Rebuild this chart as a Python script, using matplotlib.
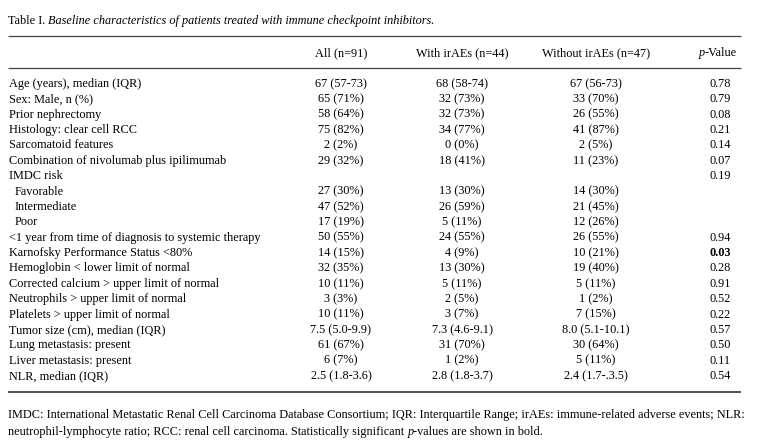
import matplotlib
matplotlib.use("Agg")
import matplotlib.pyplot as plt

plt.rcParams["font.family"] = ["Liberation Serif", "DejaVu Serif"]

title_lead = "Table I."
title_rest = "Baseline characteristics of patients treated with immune checkpoint inhibitors."

col_headers = ["All (n=91)", "With irAEs (n=44)", "Without irAEs (n=47)"]

row_labels = [
    "Age (years), median (IQR)",
    "Sex: Male, n (%)",
    "Prior nephrectomy",
    "Histology: clear cell RCC",
    "Sarcomatoid features",
    "Combination of nivolumab plus ipilimumab",
    "IMDC risk",
    "Favorable",
    "Intermediate",
    "Poor",
    "<1 year from time of diagnosis to systemic therapy",
    "Karnofsky Performance Status <80%",
    "Hemoglobin < lower limit of normal",
    "Corrected calcium > upper limit of normal",
    "Neutrophils > upper limit of normal",
    "Platelets > upper limit of normal",
    "Tumor size (cm), median (IQR)",
    "Lung metastasis: present",
    "Liver metastasis: present",
    "NLR, median (IQR)",
]
indented = [False] * 7 + [True] * 3 + [False] * 10

all_vals = ["67 (57-73)", "65 (71%)", "58 (64%)", "75 (82%)", "2 (2%)", "29 (32%)", "",
            "27 (30%)", "47 (52%)", "17 (19%)", "50 (55%)", "14 (15%)", "32 (35%)",
            "10 (11%)", "3 (3%)", "10 (11%)", "7.5 (5.0-9.9)", "61 (67%)", "6 (7%)",
            "2.5 (1.8-3.6)"]
with_vals = ["68 (58-74)", "32 (73%)", "32 (73%)", "34 (77%)", "0 (0%)", "18 (41%)", "",
             "13 (30%)", "26 (59%)", "5 (11%)", "24 (55%)", "4 (9%)", "13 (30%)",
             "5 (11%)", "2 (5%)", "3 (7%)", "7.3 (4.6-9.1)", "31 (70%)", "1 (2%)",
             "2.8 (1.8-3.7)"]
without_vals = ["67 (56-73)", "33 (70%)", "26 (55%)", "41 (87%)", "2 (5%)", "11 (23%)", "",
                "14 (30%)", "21 (45%)", "12 (26%)", "26 (55%)", "10 (21%)", "19 (40%)",
                "5 (11%)", "1 (2%)", "7 (15%)", "8.0 (5.1-10.1)", "30 (64%)", "5 (11%)",
                "2.4 (1.7-.3.5)"]
p_vals = ["0.78", "0.79", "0.08", "0.21", "0.14", "0.07", "0.19", "", "", "",
          "0.94", "0.03", "0.28", "0.91", "0.52", "0.22", "0.57", "0.50", "0.11", "0.54"]
significant = ["0.03"]

foot_line1 = ("IMDC: International Metastatic Renal Cell Carcinoma Database Consortium; "
              "IQR: Interquartile Range; irAEs: immune-related adverse events; NLR:")
foot_line2a = "neutrophil-lymphocyte ratio; RCC: renal cell carcinoma. Statistically significant "
foot_line2b = "p"
foot_line2c = "-values are shown in bold."

FS = 8.85
W, H = 758, 442

fig = plt.figure(figsize=(W / 100, H / 100), dpi=100)
ax = fig.add_axes([0, 0, 1, 1])
ax.set_xlim(0, W)
ax.set_ylim(H, 0)
ax.axis("off")
renderer = fig.canvas.get_renderer()


def text_width(txt, style="normal"):
    t = ax.text(0, 0, txt, fontsize=FS, style=style)
    w = t.get_window_extent(renderer).width
    t.remove()
    return w


def run_text(x, y, pieces):
    """Draw consecutive text pieces (text, style, weight) left to right."""
    for txt, style, weight in pieces:
        t = ax.text(x, y, txt, fontsize=FS, style=style, weight=weight,
                    ha="left", va="baseline")
        x += t.get_window_extent(renderer).width  # 1 data unit == 1 pixel
    return x


# title
run_text(8, 24, [(title_lead + " ", "normal", "normal"),
                 (title_rest, "italic", "normal")])

# rules
ax.hlines(36, 8, 741, color="#444444", lw=0.9)
ax.hlines(68, 8, 741, color="#444444", lw=0.9)
ax.hlines(392, 8, 741, color="#222222", lw=1.1)

col_x = [341, 462, 596]
p_x = 720
header_y = 56

for cx, h in zip(col_x, col_headers):
    ax.text(cx, header_y, h, fontsize=FS, ha="center", va="baseline")

# p-Value header, italic p
hw = text_width("p", "italic") + text_width("-Value")
run_text(p_x - 2 - hw / 2, header_y, [("p", "italic", "normal"),
                                     ("-Value", "normal", "normal")])

y0, dy = 87, 15.37
for i, lab in enumerate(row_labels):
    y = y0 + i * dy
    ax.text(15 if indented[i] else 9, y, lab, fontsize=FS, ha="left", va="baseline")
    for cx, vals in zip(col_x, [all_vals, with_vals, without_vals]):
        ax.text(cx, y, vals[i], fontsize=FS, ha="center", va="baseline")
    pv = p_vals[i]
    ax.text(p_x, y, pv, fontsize=FS, ha="center", va="baseline",
            weight="bold" if pv in significant else "normal")

# footnote
ax.text(8, 418, foot_line1, fontsize=FS, ha="left", va="baseline")
run_text(8, 435, [(foot_line2a, "normal", "normal"),
                  (foot_line2b, "italic", "normal"),
                  (foot_line2c, "normal", "normal")])

fig.savefig("out.png", dpi=100)
